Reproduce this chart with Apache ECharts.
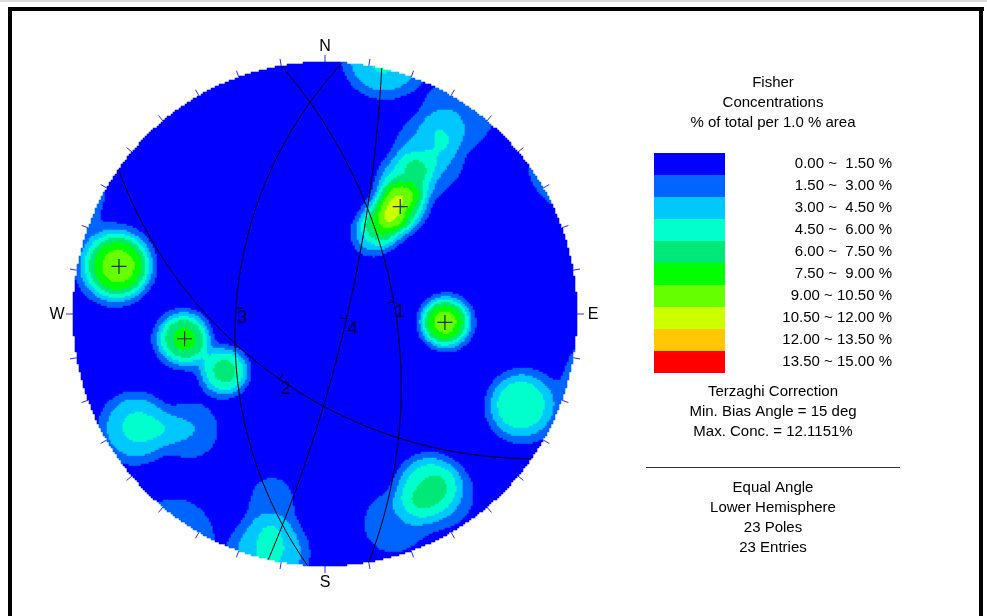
<!DOCTYPE html>
<html>
<head>
<meta charset="utf-8">
<title>Fisher Concentrations</title>
<script src="https://cdn.jsdelivr.net/npm/echarts@6/dist/echarts.min.js"></script>
<style>
  html, body { margin: 0; padding: 0; background: #fff; }
  #chart { width: 987px; height: 616px; }
</style>
</head>
<body>
<div id="chart"></div>
<script>
// contour bands, % of total per 1.0 % area
var levelMin = [0, 1.5, 3, 4.5, 6, 7.5, 9, 10.5, 12, 13.5];
var levelMax = [1.5, 3, 4.5, 6, 7.5, 9, 10.5, 12, 13.5, 15];
var levelColors = ["#0000ff", "#0064ff", "#00c8ff", "#00ffcc", "#00e878",
                   "#00ff00", "#66ff00", "#ccff00", "#ffc800", "#ff0000"];

// poles: trend / plunge (deg) and their share of the total (%)
var poleTrend  = [283, 260, 240, 94, 115, 31, 33, 35, 31, 31, 34, 39, 149, 146, 162, 239, 229, 193, 196];
var polePlunge = [10, 31, 41, 39, 9, 50, 43, 35, 27, 15, 3, 18, 13, 7, 8, 8, 20, 2, 16];
var poleShare  = [9.9, 8.0, 6.5, 9.8, 5.8, 3.5, 4.5, 6.5, 4.3, 2.9, 2.8, 1.5, 5.5, 1.3, 2.4, 4.8, 3.0, 4.7, 1.8];

// mean set poles (crosses) and their planes (great circles)
var setLabels  = ["1", "2", "3", "4"];
var setTrend   = [260, 35, 94, 283];
var setPlunge  = [31, 35, 39, 10];

var compassAngles = [0, 90, 180, 270];
var compassLabels = ["N", "E", "S", "W"];
var titleLines = ["Fisher", "Concentrations", "% of total per 1.0 % area"];
var infoLines = ["Terzaghi Correction", "Min. Bias Angle = 15 deg", "Max. Conc. = 12.1151%"];
var netLines = ["Equal Angle", "Lower Hemisphere", "23 Poles", "23 Entries"];

// layout
var CX = 325, CY = 314, R = 252;
var CELLS = 252;
var FONT = "'Liberation Sans', Arial, sans-serif";
var D2R = Math.PI / 180;

function lineVec(trend, plunge) {
  var t = trend * D2R, p = plunge * D2R;
  return [Math.cos(p) * Math.sin(t), Math.cos(p) * Math.cos(t), Math.sin(p)];
}
// equal angle (stereographic), lower hemisphere
function project(v) {
  return [v[0] / (1 + v[2]), v[1] / (1 + v[2])];
}
// smoothed 1 % area counting cap
function kernel(deg) {
  return 1 / (1 + Math.exp((deg - 8.2) / 1.7));
}

// density grid
var poleVecs = poleTrend.map(function (t, i) { return lineVec(t, polePlunge[i]); });
var heat = [];
for (var i = 0; i < CELLS; i++) {
  for (var j = 0; j < CELLS; j++) {
    var u = ((i + 0.5) / CELLS) * 2 - 1;
    var v = 1 - ((j + 0.5) / CELLS) * 2;
    var rr = u * u + v * v;
    if (rr > 1) continue;
    var g = [2 * u / (1 + rr), 2 * v / (1 + rr), (1 - rr) / (1 + rr)];
    var c = 0;
    for (var k = 0; k < poleVecs.length; k++) {
      var p = poleVecs[k];
      var d = Math.abs(g[0] * p[0] + g[1] * p[1] + g[2] * p[2]);
      var ang = Math.acos(Math.min(1, d)) / D2R;
      if (ang < 25) c += poleShare[k] * kernel(ang);
    }
    heat.push([i, j, c]);
  }
}
var cellIdx = [];
for (var n = 0; n < CELLS; n++) cellIdx.push(n);

var series = [];
series.push({
  type: "heatmap",
  xAxisIndex: 0,
  yAxisIndex: 0,
  data: heat,
  progressive: 0,
  emphasis: { disabled: true },
  silent: true
});

// great circles, dip ticks and labels
var labelPts = [];
setTrend.forEach(function (t, s) {
  var dipDir = (t + 180) % 360;
  var dip = 90 - setPlunge[s];
  var dd = dipDir * D2R, dp = dip * D2R;
  var sv = [-Math.cos(dd), Math.sin(dd), 0];
  var dv = [Math.cos(dp) * Math.sin(dd), Math.cos(dp) * Math.cos(dd), Math.sin(dp)];
  var pts = [];
  for (var a = 0; a <= 180; a += 1) {
    var ca = Math.cos(a * D2R), sa = Math.sin(a * D2R);
    pts.push(project([ca * sv[0] + sa * dv[0], ca * sv[1] + sa * dv[1], ca * sv[2] + sa * dv[2]]));
  }
  series.push({
    type: "line",
    xAxisIndex: 1,
    yAxisIndex: 1,
    data: pts,
    showSymbol: false,
    symbol: "none",
    silent: true,
    lineStyle: { color: "#000", width: 1 }
  });
  var dipPt = project(lineVec(dipDir, dip));
  var len = Math.sqrt(dipPt[0] * dipPt[0] + dipPt[1] * dipPt[1]);
  series.push({
    type: "line",
    xAxisIndex: 1,
    yAxisIndex: 1,
    data: [dipPt, [dipPt[0] * (1 - 0.025 / len), dipPt[1] * (1 - 0.025 / len)]],
    symbol: "none",
    silent: true,
    lineStyle: { color: "#000", width: 1 }
  });
  labelPts.push({ value: dipPt, name: setLabels[s] });
});

series.push({
  type: "scatter",
  xAxisIndex: 1,
  yAxisIndex: 1,
  data: labelPts,
  symbolSize: 2,
  itemStyle: { color: "rgba(0,0,0,0)" },
  silent: true,
  label: {
    show: true,
    position: "right",
    distance: 0,
    offset: [0, 10],
    formatter: "{b}",
    color: "#000",
    textBorderWidth: 0,
    fontFamily: FONT,
    fontSize: 18
  }
});

series.push({
  type: "scatter",
  xAxisIndex: 1,
  yAxisIndex: 1,
  data: setTrend.map(function (t, s) { return project(lineVec(t, setPlunge[s])); }),
  symbol: "path://M0,-1L0,1M-1,0L1,0",
  symbolSize: 15,
  silent: true,
  itemStyle: { color: "transparent", borderColor: "#000", borderWidth: 1.2 }
});

// frame, compass letters and right hand panel
var graphics = [
  { type: "rect", shape: { x: 0, y: 0, width: 987, height: 2 }, style: { fill: "#dcdcdc" } },
  { type: "rect", shape: { x: 8, y: 7, width: 976, height: 4 }, style: { fill: "#000" } },
  { type: "rect", shape: { x: 8, y: 7, width: 4, height: 609 }, style: { fill: "#000" } },
  { type: "rect", shape: { x: 979, y: 7, width: 4, height: 609 }, style: { fill: "#000" } }
];
compassAngles.forEach(function (ang, k) {
  graphics.push({
    type: "text",
    x: CX + (R + 16) * Math.sin(ang * D2R),
    y: CY - (R + 16) * Math.cos(ang * D2R) + 0.5,
    style: {
      text: compassLabels[k], fill: "#000", font: "16px " + FONT,
      align: "center", verticalAlign: "middle"
    }
  });
});
function centerText(txt, y) {
  return {
    type: "text", x: 773, y: y,
    style: { text: txt, fill: "#000", font: "15px " + FONT, align: "center", verticalAlign: "middle" }
  };
}
titleLines.forEach(function (t, k) { graphics.push(centerText(t, 83 + k * 20)); });
function fmt(x) {
  var s = x.toFixed(2);
  return s.length < 5 ? " " + s : s;
}
levelColors.forEach(function (col, k) {
  graphics.push({
    type: "rect",
    shape: { x: 654, y: 153 + k * 22, width: 71, height: 22 },
    style: { fill: col }
  });
  graphics.push({
    type: "text", x: 892, y: 164 + k * 22,
    style: {
      text: levelMin[k].toFixed(2) + " ~ " + fmt(levelMax[k]) + " %",
      fill: "#000", font: "15px " + FONT, align: "right", verticalAlign: "middle"
    }
  });
});
infoLines.forEach(function (t, k) { graphics.push(centerText(t, 392 + k * 20)); });
graphics.push({
  type: "line",
  shape: { x1: 646, y1: 467.5, x2: 900, y2: 467.5 },
  style: { stroke: "#333", lineWidth: 1 }
});
netLines.forEach(function (t, k) { graphics.push(centerText(t, 488 + k * 20)); });

var chart = echarts.init(document.getElementById("chart"));
chart.setOption({
  animation: false,
  backgroundColor: "#fff",
  grid: [
    { left: CX - R, top: CY - R, width: 2 * R, height: 2 * R },
    { left: CX - R, top: CY - R, width: 2 * R, height: 2 * R }
  ],
  xAxis: [
    { type: "category", gridIndex: 0, data: cellIdx, show: false },
    { type: "value", gridIndex: 1, min: -1, max: 1, show: false }
  ],
  yAxis: [
    { type: "category", gridIndex: 0, data: cellIdx, inverse: true, show: false },
    { type: "value", gridIndex: 1, min: -1, max: 1, show: false }
  ],
  polar: { center: [CX, CY], radius: R },
  angleAxis: {
    type: "value",
    min: 0,
    max: 360,
    interval: 10,
    startAngle: 90,
    clockwise: true,
    axisLine: { show: false },
    splitLine: { show: false },
    axisTick: { show: true, length: 7, lineStyle: { color: "#2a2aff", width: 1 } },
    axisLabel: { show: false }
  },
  radiusAxis: { show: false },
  visualMap: {
    type: "piecewise",
    show: false,
    seriesIndex: 0,
    dimension: 2,
    pieces: levelColors.map(function (col, k) {
      return { gte: levelMin[k], lt: levelMax[k], color: col };
    })
  },
  series: series,
  graphic: graphics
});
window.addEventListener("resize", function () {
  chart.resize();
});
</script>
</body>
</html>
